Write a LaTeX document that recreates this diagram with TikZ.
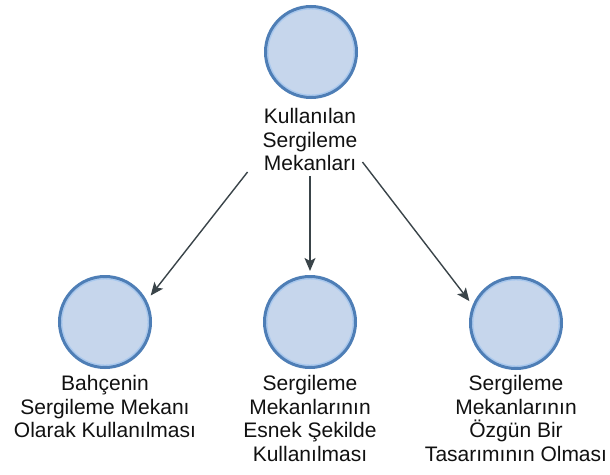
\documentclass[tikz,border=0pt]{standalone}
\usepackage{fontspec}
\setmainfont{Liberation Sans}
\usetikzlibrary{arrows.meta,calc}
\definecolor{ringdark}{HTML}{4E7EB6}
\definecolor{ringlight}{HTML}{A8C8EE}
\definecolor{discfill}{HTML}{C6D6EC}
\definecolor{linkgray}{HTML}{3A4449}
\definecolor{labeltext}{HTML}{111111}
\tikzset{
  disc/.style={circle, minimum size=91pt, inner sep=0pt, draw=ringdark,
    line width=3pt, fill=discfill,
    path picture={\draw[ringlight, line width=1.3pt]
      (path picture bounding box.center) circle (43.2pt);}},
  caption/.style={anchor=north, align=center, inner sep=0pt, text=labeltext,
    font=\fontsize{21}{23.6}\selectfont},
  link/.style={draw=linkgray, line width=1.4pt,
    -{Stealth[length=13pt, width=11pt, inset=3pt]}}
}
\begin{document}
\begin{tikzpicture}[x=1pt, y=-1pt]
  \useasboundingbox (0,0) rectangle (610,474);
  \fill[white] (0,0) rectangle (610,474);

  % root node and its caption
  \node[disc] (root) at (311,52) {};
  \node[caption] (rootlbl) at (310,108) {Kullanılan\\Sergileme\\Mekanları};

  % three child nodes
  \node[disc] (c1) at (105,322) {};
  \node[disc] (c2) at (310,322) {};
  \node[disc] (c3) at (516,323) {};

  \node[caption] (c1lbl) at (105,375) {Bahçenin\\Sergileme Mekanı\\Olarak Kullanılması};
  \node[caption] (c2lbl) at (310,375) {Sergileme\\Mekanlarının\\Esnek Şekilde\\Kullanılması};
  \node[caption] (c3lbl) at (516,375) {Sergileme\\Mekanlarının\\Özgün Bir\\Tasarımının Olması};

  % connectors from the root caption to each child
  \draw[link] ($(rootlbl.south west)+(-15,1)$) -- ($(c1.30)+(5,-3)$);
  \draw[link] ($(rootlbl.south)+(0,5)$) -- ($(c2.north)+(0,-4)$);
  \draw[link] ($(rootlbl.south east)+(5,-9)$) -- ($(c3.155)+(-4,-2)$);
\end{tikzpicture}
\end{document}
